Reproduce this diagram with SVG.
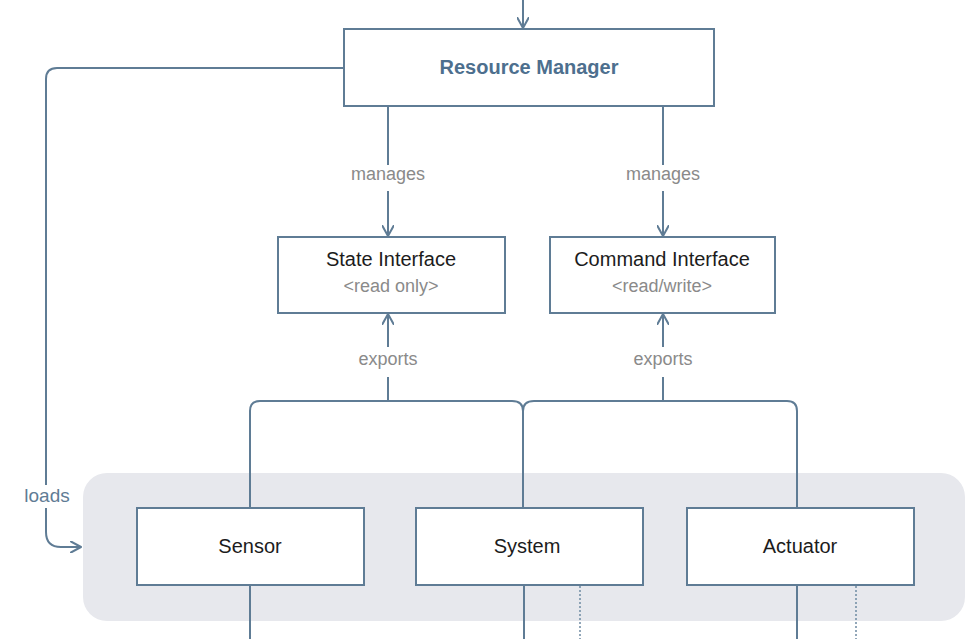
<svg xmlns="http://www.w3.org/2000/svg" width="966" height="639" viewBox="0 0 966 639">
<defs>
<marker id="arr" viewBox="0 0 12 12" refX="11" refY="6" markerWidth="12" markerHeight="12" markerUnits="userSpaceOnUse" orient="auto">
<path d="M1,0.5 L11,6 L1,11.5" fill="none" stroke="#5f7c95" stroke-width="2" stroke-linecap="round" stroke-linejoin="round"/>
</marker>
<style>
.box{fill:#fff;stroke:#5f7c95;stroke-width:2}
.ln{fill:none;stroke:#5f7c95;stroke-width:2}
.dot{fill:none;stroke:#6f8aa2;stroke-width:1.5;stroke-dasharray:2 2}
.t{font-family:"Liberation Sans",Arial,sans-serif;font-size:20px;fill:#1c1c1c;text-anchor:middle}
.sub{font-family:"Liberation Sans",Arial,sans-serif;font-size:18px;fill:#8a8a8a;text-anchor:middle}
.lbl{font-family:"Liberation Sans",Arial,sans-serif;font-size:18px;fill:#8a8a8a;text-anchor:middle}
</style>
</defs>
<rect x="0" y="0" width="966" height="639" fill="#fff"/>
<rect id="panel" x="83" y="473" width="882" height="148" rx="24" fill="#e7e8ed"/>
<g id="connectors">
<path class="ln" d="M523,0 V28" marker-end="url(#arr)"/>
<path class="ln" d="M388,106 V165"/>
<path class="ln" d="M388,191 V236" marker-end="url(#arr)"/>
<path class="ln" d="M663,106 V165"/>
<path class="ln" d="M663,191 V236" marker-end="url(#arr)"/>
<path class="ln" d="M388,401 V377"/>
<path class="ln" d="M388,347 V314" marker-end="url(#arr)"/>
<path class="ln" d="M663,401 V377"/>
<path class="ln" d="M663,347 V314" marker-end="url(#arr)"/>
<path class="ln" d="M250,508 V411 Q250,401 260,401 H512 Q523,401 523,411 V508"/>
<path class="ln" d="M523,411 Q523,401 534,401 H787 Q797,401 797,411 V508"/>
<path class="ln" d="M344,68 H57 Q46,68 46,79 V485"/>
<path class="ln" d="M46,508 V532 Q46,547 61,547 H81" marker-end="url(#arr)"/>
<path class="ln" d="M250,585 V639"/>
<path class="ln" d="M524,585 V639"/>
<path class="ln" d="M797,585 V639"/>
<path class="dot" d="M580,586 V639"/>
<path class="dot" d="M856,586 V639"/>
<text class="lbl" x="388" y="180">manages</text>
<text class="lbl" x="663" y="180">manages</text>
<text class="lbl" x="388" y="365">exports</text>
<text class="lbl" x="663" y="365">exports</text>
<text x="47" y="502" style="font-family:'Liberation Sans',Arial,sans-serif;font-size:19px;fill:#5f7c95;text-anchor:middle">loads</text>
</g>
<g id="resource-manager">
<rect class="box" x="344" y="29" width="370" height="77"/>
<text x="529" y="74" style="font-family:'Liberation Sans',Arial,sans-serif;font-size:20px;font-weight:bold;fill:#4d6f8e;text-anchor:middle">Resource Manager</text>
</g>
<g id="state-interface">
<rect class="box" x="278" y="237" width="227" height="76"/>
<text class="t" x="391" y="266">State Interface</text>
<text class="sub" x="391" y="292">&lt;read only&gt;</text>
</g>
<g id="command-interface">
<rect class="box" x="550" y="237" width="225" height="76"/>
<text class="t" x="662" y="266">Command Interface</text>
<text class="sub" x="662" y="292">&lt;read/write&gt;</text>
</g>
<g id="sensor">
<rect class="box" x="137" y="508" width="227" height="77"/>
<text class="t" x="250" y="553">Sensor</text>
</g>
<g id="system">
<rect class="box" x="416" y="508" width="227" height="77"/>
<text class="t" x="527" y="553">System</text>
</g>
<g id="actuator">
<rect class="box" x="687" y="508" width="227" height="77"/>
<text class="t" x="800" y="553">Actuator</text>
</g>
</svg>
